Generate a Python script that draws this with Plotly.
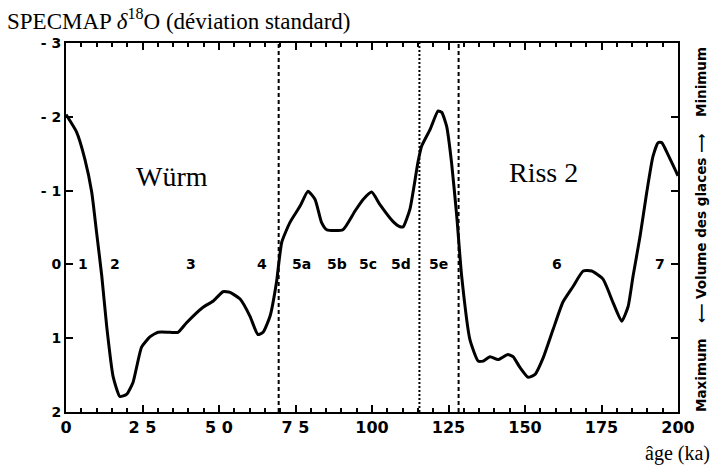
import plotly.graph_objects as go

# Data
age_ka = [0, 3.5, 6.2, 8.4, 10.0, 11.7, 13.3, 15.4, 17.6, 19.8, 21.9, 24.7, 27.5, 30.1, 34.0, 36.6,
          39.4, 44.8, 48.0, 51.3, 53.6, 56.9, 60.1, 62.7, 64.4, 66.7, 68.8, 70.5, 73.2, 76.5, 79.1,
          81.4, 83.5, 85.2, 90.5, 94.4, 97.1, 99.9, 102.6, 106.9, 109.2, 110.2, 112.4, 115.0, 116.2,
          119.0, 121.6, 122.8, 124.4, 126.0, 127.7, 129.3, 132.0, 134.7, 136.3, 138.6, 141.2, 144.4,
          146.1, 148.4, 151.0, 153.3, 156.0, 159.2, 162.4, 165.7, 169.0, 171.8, 175.5, 178.8, 181.6,
          183.7, 185.3, 187.6, 189.8, 191.8, 193.5, 194.7, 196.7, 200.0]
d18o_std = [-2.03, -1.79, -1.42, -0.98, -0.43, 0.16, 0.84, 1.52, 1.79, 1.76, 1.60, 1.12, 0.98, 0.92, 0.92, 0.92,
            0.79, 0.58, 0.50, 0.37, 0.38, 0.47, 0.70, 0.95, 0.92, 0.70, 0.24, -0.30, -0.57, -0.79, -0.99,
            -0.88, -0.57, -0.47, -0.47, -0.72, -0.88, -0.98, -0.81, -0.58, -0.51, -0.51, -0.75, -1.38, -1.60,
            -1.83, -2.08, -2.06, -1.87, -1.38, -0.65, 0.16, 1.02, 1.31, 1.31, 1.25, 1.29, 1.22,
            1.25, 1.40, 1.53, 1.49, 1.26, 0.88, 0.51, 0.30, 0.09, 0.09, 0.20, 0.52, 0.77,
            0.57, 0.16, -0.38, -0.98, -1.46, -1.65, -1.65, -1.49, -1.20]

boundaries_ka = [69.5, 115.5, 128.3]
boundary_dash = ["4px,3px", "2px,2px", "4px,3px"]

stage_labels = ["1", "2", "3", "4", "5a", "5b", "5c", "5d", "5e", "6", "7"]
stage_x = [5.4, 16.0, 40.7, 64.0, 77.1, 88.6, 98.7, 109.5, 121.6, 160.3, 194.1]

x_tickvals = [0, 25, 50, 75, 100, 125, 150, 175, 200]
x_ticktext = ["0", "2 5", "5 0", "7 5", "100", "125", "150", "175", "200"]
y_tickvals = [-3, -2, -1, 0, 1, 2]
y_ticktext = ["- 3", "- 2", "- 1", "0", "1", "2"]

W, H = 714, 468
L, R, T, B = 66, 36, 43, 56
pw, ph = W - L - R, H - T - B

def px_x(px):
    return (px - L) / pw

def px_y(py):
    return (H - B - py) / ph

fig = go.Figure()
fig.add_trace(go.Scatter(x=age_ka, y=d18o_std, mode="lines",
                         line=dict(color="black", width=3, shape="spline", smoothing=0.5),
                         hoverinfo="skip", showlegend=False))

for bx, d in zip(boundaries_ka, boundary_dash):
    fig.add_vline(x=bx, line=dict(color="black", width=2, dash=d))

bold = "DejaVu Sans"
serif = "Liberation Serif"
stage_font = dict(family=bold, size=14, color="black", weight="bold")

ann = []
for lab, sx in zip(stage_labels, stage_x):
    ann.append(dict(x=sx, y=0, xref="x", yref="y", text=lab, showarrow=False,
                    font=stage_font, xanchor="center", yanchor="middle"))

ann.append(dict(x=34.7, y=-1.19, xref="x", yref="y", text="Würm", showarrow=False,
                font=dict(family=serif, size=28, color="black")))
ann.append(dict(x=156.2, y=-1.25, xref="x", yref="y", text="Riss 2", showarrow=False,
                font=dict(family=serif, size=28, color="black")))

ann.append(dict(x=px_x(5), y=px_y(20), xref="paper", yref="paper",
                text="SPECMAP <i>δ</i><sup>18</sup>O (déviation standard)", showarrow=False,
                xanchor="left", yanchor="middle", font=dict(family=serif, size=23, color="black")))
ann.append(dict(x=px_x(712), y=px_y(453), xref="paper", yref="paper",
                text="âge (ka)", showarrow=False, xanchor="right", yanchor="middle",
                font=dict(family=serif, size=20, color="black")))

side_font = dict(family=bold, size=13.5, color="black", weight="bold")
for txt, py in [("Minimum", 82), ("⟵ Volume des glaces ⟶", 229), ("Maximum", 375)]:
    ann.append(dict(x=px_x(701), y=px_y(py), xref="paper", yref="paper", text=txt,
                    showarrow=False, textangle=-90, xanchor="center", yanchor="middle",
                    font=side_font))

fig.update_layout(
    width=W, height=H,
    margin=dict(l=L, r=R, t=T, b=B),
    paper_bgcolor="white", plot_bgcolor="white",
    annotations=ann,
    xaxis=dict(range=[0, 200], showline=True, linecolor="black", linewidth=2, mirror="ticks",
               ticks="inside", ticklen=7, tickwidth=2, tickcolor="black",
               tickvals=x_tickvals, ticktext=x_ticktext,
               tickfont=dict(family=bold, size=16, color="black", weight="bold"),
               minor=dict(dtick=5, ticks="inside", ticklen=4, tickwidth=1.5, tickcolor="black"),
               showgrid=False, zeroline=False),
    yaxis=dict(range=[2, -3], showline=True, linecolor="black", linewidth=2, mirror="ticks",
               ticks="inside", ticklen=7, tickwidth=2, tickcolor="black",
               tickvals=y_tickvals, ticktext=y_ticktext,
               tickfont=dict(family=bold, size=14, color="black", weight="bold"),
               showgrid=False, zeroline=False),
)

fig.write_html("out.html", config={"displayModeBar": False},
               post_script="document.body.style.margin='0';document.body.style.padding='0';"
                           "document.documentElement.style.overflow='hidden';")
